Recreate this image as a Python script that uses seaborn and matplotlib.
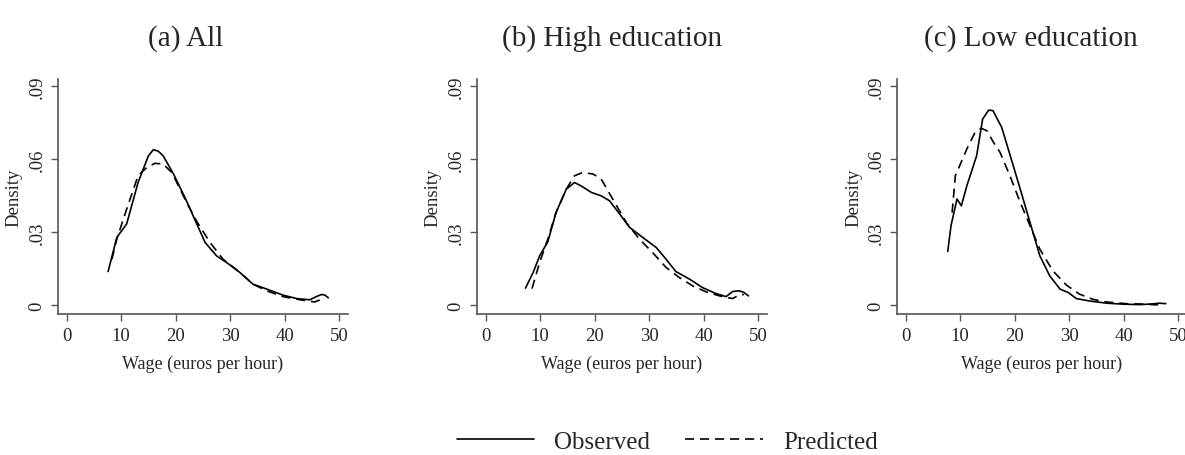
import pandas as pd
import matplotlib.pyplot as plt
import seaborn as sns
from matplotlib.lines import Line2D

# Values
panel_titles = ["(a) All", "(b) High education", "(c) Low education"]

all_obs_x = [7.6, 9.2, 11.0, 13.1, 15.0, 15.9, 16.8, 17.7, 19.6, 21.7, 23.2, 25.4, 27.5, 30.0,
             31.8, 34.2, 36.7, 39.7, 42.2, 44.6, 45.8, 46.8, 47.4, 48.0]
all_obs_y = [0.0137, 0.0278, 0.0333, 0.0504, 0.0614, 0.0639, 0.0633, 0.0614, 0.0539, 0.0442,
             0.0367, 0.0257, 0.0202, 0.0164, 0.0133, 0.0085, 0.0065, 0.0040, 0.0026, 0.0021,
             0.0034, 0.0043, 0.0040, 0.0029]
all_pred_x = [8.3, 9.2, 11.0, 13.1, 14.7, 16.2, 17.7, 19.3, 21.4, 23.8, 26.3, 28.7, 31.8, 34.2,
              36.7, 39.7, 42.8, 45.5, 46.5, 47.4]
all_pred_y = [0.0188, 0.0271, 0.0394, 0.0532, 0.0566, 0.0583, 0.0580, 0.0545, 0.0449, 0.0346,
              0.0257, 0.0188, 0.0133, 0.0085, 0.0058, 0.0034, 0.0021, 0.0012, 0.0021, 0.0029]

high_obs_x = [7.3, 8.7, 9.9, 11.4, 12.9, 14.8, 16.3, 17.5, 19.4, 21.2, 22.7, 24.6, 26.4, 28.8,
              31.3, 33.1, 34.9, 37.4, 39.8, 42.2, 44.1, 45.3, 46.5, 47.4, 48.2]
high_obs_y = [0.0069, 0.0133, 0.0202, 0.0260, 0.0380, 0.0477, 0.0504, 0.0490, 0.0463, 0.0449,
              0.0429, 0.0374, 0.0319, 0.0278, 0.0236, 0.0188, 0.0137, 0.0106, 0.0071, 0.0047,
              0.0034, 0.0055, 0.0058, 0.0051, 0.0037]
high_pred_x = [8.5, 9.9, 11.4, 12.9, 14.8, 16.3, 17.8, 19.7, 21.2, 23.3, 25.8, 28.2, 30.6, 33.1,
               35.5, 38.0, 40.4, 42.9, 45.3, 46.2, 47.4]
high_pred_y = [0.0067, 0.0175, 0.0271, 0.0380, 0.0477, 0.0532, 0.0545, 0.0539, 0.0518, 0.0436,
               0.0339, 0.0271, 0.0216, 0.0154, 0.0113, 0.0078, 0.0054, 0.0037, 0.0026, 0.0037,
               0.0043]

low_obs_x = [7.7, 8.3, 9.4, 10.2, 11.2, 13.0, 14.1, 15.2, 16.0, 17.6, 18.8, 21.0, 22.8, 24.6,
             26.4, 28.3, 29.8, 31.3, 33.7, 36.8, 39.8, 42.9, 45.3, 46.5, 47.7]
low_obs_y = [0.0220, 0.0326, 0.0436, 0.0408, 0.0490, 0.0614, 0.0765, 0.0802, 0.0800, 0.0731,
             0.0642, 0.0477, 0.0339, 0.0202, 0.0120, 0.0065, 0.0051, 0.0026, 0.0016, 0.0007,
             0.0003, 0.0001, 0.0004, 0.0007, 0.0005]
low_pred_x = [8.5, 9.1, 11.2, 12.7, 13.9, 14.9, 16.1, 17.3, 19.1, 21.0, 22.8, 24.6, 27.0, 29.5,
              31.9, 34.3, 36.8, 40.4, 44.1, 45.9, 46.8]
low_pred_y = [0.0380, 0.0532, 0.0642, 0.0710, 0.0727, 0.0717, 0.0669, 0.0628, 0.0532, 0.0422,
              0.0326, 0.0229, 0.0140, 0.0081, 0.0044, 0.0023, 0.0012, 0.0005, 0.0003, 0.0000,
              0.0004]

x_ticks = [0, 10, 20, 30, 40, 50]
y_ticks = [0, 0.03, 0.06, 0.09]
y_tick_labels = ["0", ".03", ".06", ".09"]

sns.set_style("ticks")
plt.rcParams["font.family"] = ["Liberation Serif", "DejaVu Serif"]

panels = [
    (all_obs_x, all_obs_y, all_pred_x, all_pred_y),
    (high_obs_x, high_obs_y, high_pred_x, high_pred_y),
    (low_obs_x, low_obs_y, low_pred_x, low_pred_y),
]

fig = plt.figure(figsize=(11.85, 4.56), dpi=100)
lefts = [0.0489, 0.4025, 0.757]
# title centres, as fraction of each axes width (titles sit a bit left of the axes centre)
title_x = [0.44, 0.467, 0.462]
dash = (5.5, 3.5)
axis_col = "#555555"

for i, (ox, oy, px_, py) in enumerate(panels):
    ax = fig.add_axes([lefts[i], 0.309, 0.2447, 0.5154])
    obs = pd.DataFrame({"x": ox, "y": oy})
    pred = pd.DataFrame({"x": px_, "y": py})
    sns.lineplot(data=obs, x="x", y="y", ax=ax, color="black", lw=1.2, sort=False, estimator=None)
    sns.lineplot(data=pred, x="x", y="y", ax=ax, color="black", lw=1.2, sort=False, estimator=None,
                 dashes=False, linestyle=(0, dash))
    ax.set_xlim(-1.6, 51.6)
    ax.set_ylim(-0.0038, 0.093)
    ax.set_xticks(x_ticks)
    ax.set_yticks(y_ticks)
    ax.set_yticklabels(y_tick_labels, rotation=90, va="center")
    ax.tick_params(labelsize=13.5, length=5, width=1, color=axis_col, pad=4)
    for s in ["left", "bottom"]:
        ax.spines[s].set_color(axis_col)
        ax.spines[s].set_linewidth(1.2)
    sns.despine(ax=ax)
    ax.set_xlabel("Wage (euros per hour)", fontsize=13, labelpad=8)
    ax.set_ylabel("Density", fontsize=13.5, labelpad=4)
    ax.set_title(panel_titles[i], fontsize=21, pad=25, x=title_x[i])

handles = [
    Line2D([], [], color="black", lw=1.2),
    Line2D([], [], color="black", lw=1.2, linestyle=(0, dash)),
]
fig.legend(handles, ["Observed", "Predicted"], loc="center", bbox_to_anchor=(0.563, 0.03),
           ncol=2, frameon=False, fontsize=18, handlelength=3.1, columnspacing=1.4)

fig.savefig("out.png", dpi=100)
